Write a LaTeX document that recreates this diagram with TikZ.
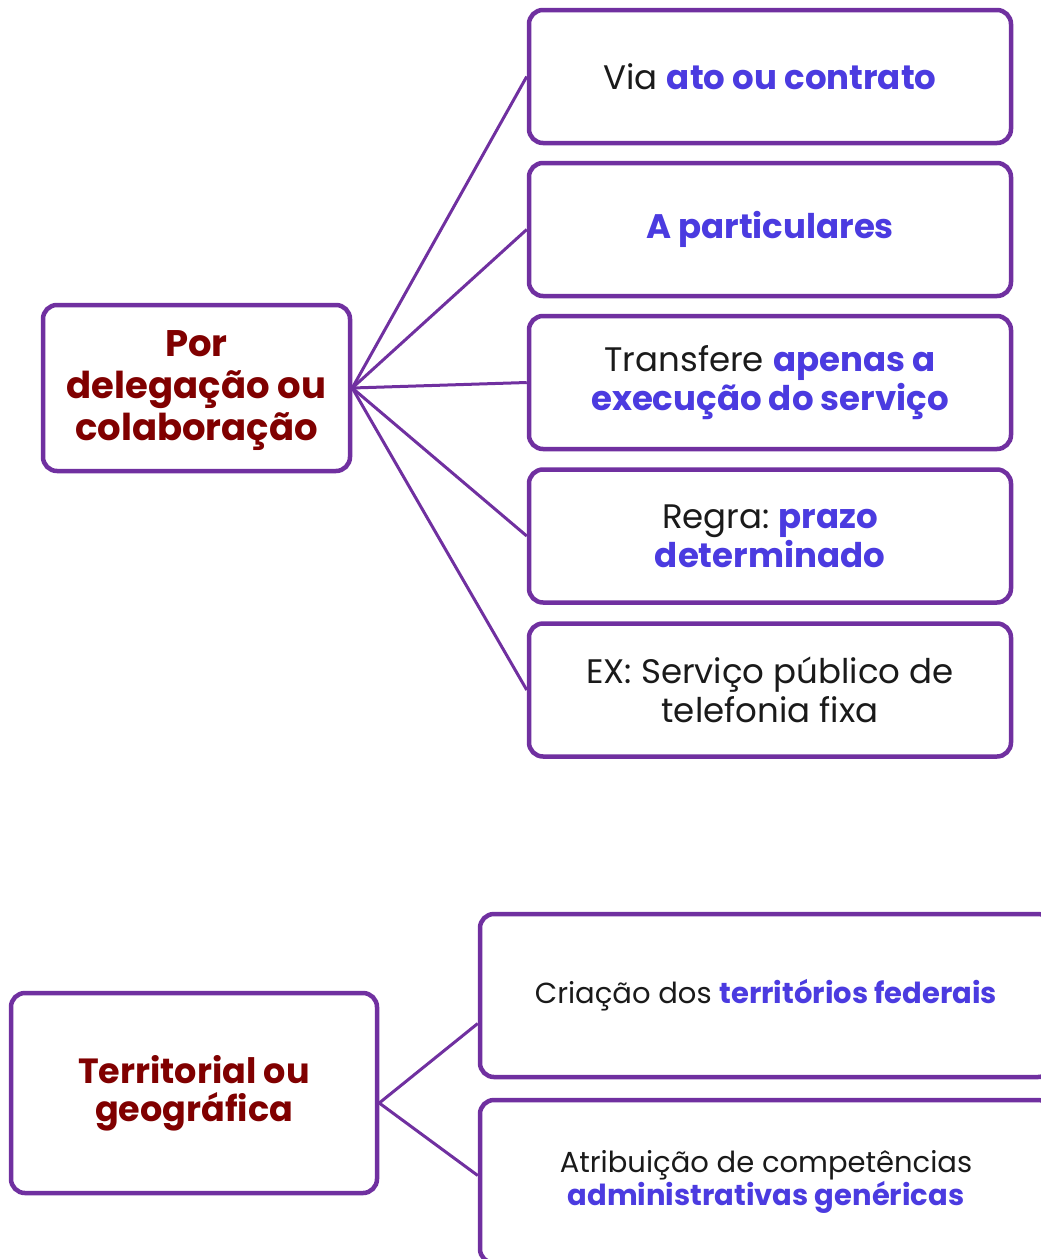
\documentclass[tikz,border=0pt]{standalone}
\usepackage{fontspec}
\setmainfont{Poppins}
\usetikzlibrary{positioning}
\definecolor{roxo}{HTML}{7030A0}
\definecolor{vinho}{HTML}{800000}
\definecolor{azul}{HTML}{4B3BE0}
\definecolor{texto}{HTML}{1A1A1A}
\newcommand{\realce}[1]{\textbf{\textcolor{azul}{#1}}}
\frenchspacing

\begin{document}
\begin{tikzpicture}[x=1pt, y=-1pt,
    caixa/.style={draw=roxo, line width=4.5pt, rounded corners=14pt, fill=white,
        align=center, text=texto, inner sep=0pt, font=\fontsize{34}{39}\selectfont},
    titulo/.style={caixa, text=vinho, font=\fontsize{37}{42}\selectfont\bfseries},
    ramo/.style={caixa, minimum width=482pt, minimum height=133pt},
    ramob/.style={caixa, minimum width=572pt, minimum height=163pt, font=\fontsize{29}{33}\selectfont},
    liga/.style={draw=roxo, line width=3pt}]
    \useasboundingbox (0,0) rectangle (1041,1259);
    \clip (0,0) rectangle (1041,1259);

    % Por delegacao ou colaboracao
    \node[titulo, minimum width=307pt, minimum height=166pt, text depth=4pt] (deleg) at (196.5,388) {Por\\delegação ou\\colaboração};
    \node[ramo] (via) at (770,76.5) {Via \realce{ato ou contrato}};
    \node[ramo] (partic) at (770,229.5) {\realce{A particulares}};
    \node[ramo] (transf) at (770,382.5) {Transfere \realce{apenas a}\\\realce{execução do serviço}};
    \node[ramo] (regra) at (770,536) {Regra: \realce{prazo}\\\realce{determinado}};
    \node[ramo] (ex) at (770,690) {EX: Serviço público de\\telefonia fixa};

    \foreach \n in {via, partic, transf, regra, ex} {
        \draw[liga] (deleg.east) -- (\n.west);
    }

    % Territorial ou geografica
    \node[titulo, minimum width=366pt, minimum height=200pt, font=\fontsize{35}{38}\selectfont\bfseries] (territ) at (194,1093) {Territorial ou\\geográfica};
    \node[ramob] (criacao) at (766,995.5) {Criação dos \realce{territórios federais}};
    \node[ramob] (atrib) at (766,1181.5) {Atribuição de competências\\\realce{administrativas genéricas}};

    \coordinate (leque) at ([yshift=-10pt]territ.east);
    \draw[liga] (leque) -- ([yshift=-28pt]criacao.west);
    \draw[liga] (leque) -- ([yshift=6pt]atrib.west);
\end{tikzpicture}
\end{document}
